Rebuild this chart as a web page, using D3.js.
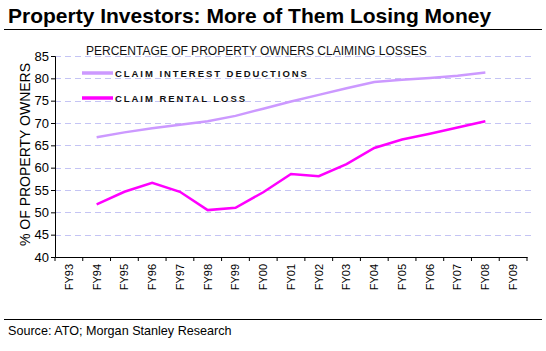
<!DOCTYPE html>
<html>
<head>
<meta charset="utf-8">
<script src="https://cdn.jsdelivr.net/npm/d3@7"></script>
<style>
  body { margin: 0; background: #fff; }
  svg text { font-family: Arial, "Liberation Sans", sans-serif; }
</style>
</head>
<body>
<div id="chart"></div>
<script>
const years = ["FY93","FY94","FY95","FY96","FY97","FY98","FY99","FY00","FY01","FY02","FY03","FY04","FY05","FY06","FY07","FY08","FY09"];
const interestYears = ["FY94","FY95","FY96","FY97","FY98","FY99","FY00","FY01","FY02","FY03","FY04","FY05","FY06","FY07","FY08"];
const interestDeductions = [66.8, 67.9, 68.8, 69.6, 70.4, 71.6, 73.2, 74.8, 76.3, 77.8, 79.2, 79.7, 80.1, 80.6, 81.3];
const rentalLoss = [51.8, 54.6, 56.6, 54.6, 50.5, 51.0, 54.5, 58.6, 58.1, 60.8, 64.4, 66.3, 67.6, 69.0, 70.4];
const yTicks = [40, 45, 50, 55, 60, 65, 70, 75, 80, 85];

const W = 546, H = 351;
const margin = {top: 56, right: 19, bottom: 94, left: 55};
const width = W - margin.left - margin.right;
const height = H - margin.top - margin.bottom;

const svg = d3.select("#chart").append("svg")
    .attr("width", W)
    .attr("height", H);

// header and footer
svg.append("text")
    .attr("x", 8).attr("y", 23)
    .attr("font-size", 21).attr("font-weight", "bold")
    .attr("fill", "#000")
    .text("Property Investors: More of Them Losing Money");
svg.append("line").attr("x1", 4).attr("x2", 542).attr("y1", 29.5).attr("y2", 29.5)
    .attr("stroke", "#000").attr("stroke-width", 1);
svg.append("line").attr("x1", 4).attr("x2", 542).attr("y1", 319.5).attr("y2", 319.5)
    .attr("stroke", "#000").attr("stroke-width", 1);
svg.append("text")
    .attr("x", 8).attr("y", 335)
    .attr("font-size", 12.6).attr("fill", "#000")
    .text("Source: ATO; Morgan Stanley Research");

const g = svg.append("g")
    .attr("transform", `translate(${margin.left},${margin.top})`);

const x = d3.scaleBand().domain(years).range([0, width]);
const y = d3.scaleLinear().domain([40, 85]).range([height, 0]);

// gridlines
g.selectAll(".grid")
    .data(yTicks.filter(d => d > 40))
    .enter().append("line")
    .attr("x1", 0).attr("x2", width + 4)
    .attr("y1", d => Math.round(y(d)) + 0.5).attr("y2", d => Math.round(y(d)) + 0.5)
    .attr("stroke", "#c4c4f4").attr("stroke-dasharray", "6,4");

// axes
const yAxis = d3.axisLeft(y).tickValues(yTicks).tickSize(4).tickPadding(2);
const gy = g.append("g").attr("class", "axis y-axis").call(yAxis);
gy.select(".domain").attr("stroke", "#000");
gy.selectAll("text")
    .attr("font-family", "'DejaVu Sans', Verdana, sans-serif")
    .attr("font-size", 13).attr("fill", "#000");

const xAxis = d3.axisBottom(x).tickSize(0).tickFormat(d => d);
const gx = g.append("g").attr("class", "axis x-axis")
    .attr("transform", `translate(0,${height})`)
    .call(xAxis);
gx.select(".domain").attr("stroke", "#000");
gx.selectAll("text")
    .attr("font-size", 11).attr("fill", "#000")
    .attr("transform", "rotate(-90)")
    .attr("text-anchor", "end")
    .attr("x", -7).attr("y", 0).attr("dy", "0.35em");
// boundary ticks
gx.selectAll(".btick")
    .data(years.concat(["end"]))
    .enter().append("line")
    .attr("x1", (d, i) => i * x.step()).attr("x2", (d, i) => i * x.step())
    .attr("y1", 0).attr("y2", 4)
    .attr("stroke", "#000");

// y axis label
g.append("text")
    .attr("transform", `translate(-25,${height / 2 - 2}) rotate(-90)`)
    .attr("text-anchor", "middle")
    .attr("font-family", "'DejaVu Sans', Verdana, sans-serif")
    .attr("font-size", 14).attr("fill", "#000")
    .text("% OF PROPERTY OWNERS");

// lines
const line = d3.line()
    .x((d, i) => x(interestYears[i]) + x.bandwidth() / 2)
    .y(d => y(d));

g.append("path").datum(interestDeductions)
    .attr("d", line).attr("fill", "none")
    .attr("stroke", "#cc99ff").attr("stroke-width", 2.5);
g.append("path").datum(rentalLoss)
    .attr("d", line).attr("fill", "none")
    .attr("stroke", "#ff00ff").attr("stroke-width", 2.5);

// chart title
g.append("text")
    .attr("x", 31).attr("y", -1)
    .attr("font-size", 12).attr("fill", "#111")
    .text("PERCENTAGE OF PROPERTY OWNERS CLAIMING LOSSES");

// legend
const legend = [
    {label: "CLAIM INTEREST DEDUCTIONS", color: "#cc99ff", y: 17},
    {label: "CLAIM RENTAL LOSS", color: "#ff00ff", y: 42}
];
const lg = g.selectAll(".legend").data(legend).enter().append("g");
lg.append("line")
    .attr("x1", 27).attr("x2", 58)
    .attr("y1", d => d.y).attr("y2", d => d.y)
    .attr("stroke", d => d.color).attr("stroke-width", 3.5);
lg.append("text")
    .attr("x", 60).attr("y", d => d.y + 3.5)
    .attr("font-size", 9.5).attr("font-weight", "bold")
    .attr("letter-spacing", 1.95)
    .attr("fill", "#111")
    .text(d => d.label);
</script>
</body>
</html>
